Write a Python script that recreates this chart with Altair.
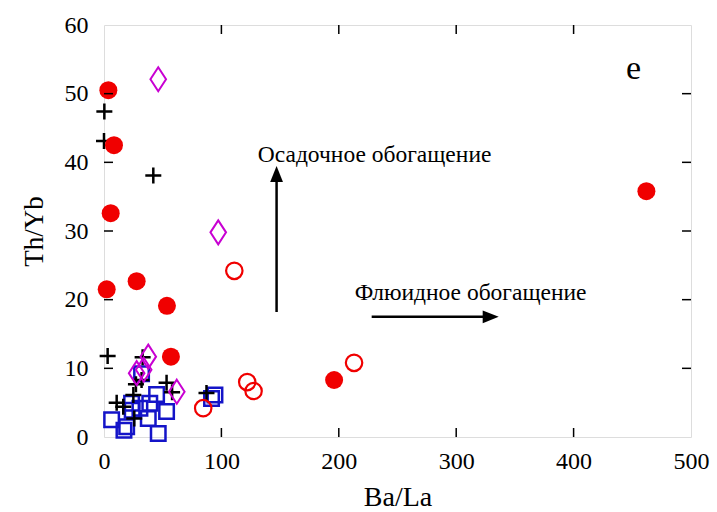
import altair as alt
import pandas as pd

# ---- data ----
filled_x = [3.7, 8.5, 5.7, 2.3, 27.8, 53.6, 57.0, 196.0, 462.0]
filled_y = [50.5, 42.5, 32.6, 21.5, 22.7, 19.1, 11.7, 8.3, 35.8]

open_x = [111.0, 122.0, 127.4, 84.5, 213.0]
open_y = [24.2, 8.0, 6.7, 4.2, 10.8]

diam_x = [46.2, 97.3, 37.7, 27.8, 33.8, 62.0]
diam_y = [52.1, 29.8, 11.7, 9.3, 9.8, 6.6]

plus_x = [0.3, 0.0, 42.0, 3.1, 32.9, 32.0, 27.2, 53.3, 58.0, 25.0, 10.8, 16.4, 25.8, 87.3]
plus_y = [47.4, 43.1, 38.1, 11.8, 11.6, 8.3, 7.7, 7.9, 6.5, 6.1, 5.0, 4.4, 2.7, 6.4]

sq_x = [6.5, 19.3, 17.0, 23.5, 30.6, 39.0, 44.8, 37.7, 53.3, 46.2, 32.0, 94.5, 91.6, 24.0]
sq_y = [2.5, 1.5, 1.0, 4.9, 4.2, 4.9, 6.2, 2.7, 3.7, 0.5, 9.2, 6.1, 5.6, 3.9]

x_ticks = [100, 200, 300, 400]
y_ticks = [10, 20, 30, 40, 50]

FONT = "Liberation Serif"
W, H = 587, 412

xs = alt.Scale(domain=[0, 500], nice=False, zero=False)
ys = alt.Scale(domain=[0, 60], nice=False, zero=False)

xaxis = alt.Axis(values=[0, 100, 200, 300, 400, 500], tickSize=0, domain=False, grid=False,
                 labelFont=FONT, labelFontSize=24, labelColor="black", labelPadding=12,
                 title="Ba/La", titleFont=FONT, titleFontSize=28, titleFontWeight="normal",
                 titleColor="black", titlePadding=10, labelFlush=False)
yaxis = alt.Axis(values=[0, 10, 20, 30, 40, 50, 60], tickSize=0, domain=False, grid=False,
                 labelFont=FONT, labelFontSize=24, labelColor="black", labelPadding=16,
                 title="Th/Yb", titleFont=FONT, titleFontSize=27, titleFontWeight="normal",
                 titleColor="black", titlePadding=16, labelFlush=False)

X = lambda f="x:Q": alt.X(f, scale=xs, axis=xaxis)
Y = lambda f="y:Q": alt.Y(f, scale=ys, axis=yaxis)


def pts(xv, yv):
    return pd.DataFrame({"x": xv, "y": yv})


RED = "#F00000"
BLUE = "#1414C8"
MAG = "#C800D2"

plus_path = "M-1,0L1,0M0,-1L0,1"
diam_path = "M0,-1L0.65,0L0,1L-0.65,0Z"

squares = alt.Chart(pts(sq_x, sq_y)).mark_point(
    shape="square", filled=False, size=210, stroke=BLUE, strokeWidth=2.5, opacity=1).encode(x=X(), y=Y())
pluses = alt.Chart(pts(plus_x, plus_y)).mark_point(
    shape=plus_path, filled=False, size=256, stroke="black", strokeWidth=2.5, opacity=1).encode(x=X(), y=Y())
diamonds = alt.Chart(pts(diam_x, diam_y)).mark_point(
    shape=diam_path, filled=False, size=576, stroke=MAG, strokeWidth=2, opacity=1).encode(x=X(), y=Y())
opens = alt.Chart(pts(open_x, open_y)).mark_point(
    shape="circle", filled=False, size=270, stroke=RED, strokeWidth=2.2, opacity=1).encode(x=X(), y=Y())
filled = alt.Chart(pts(filled_x, filled_y)).mark_point(
    shape="circle", filled=True, size=324, fill=RED, stroke=RED, strokeWidth=0, opacity=1).encode(x=X(), y=Y())

# inward ticks on all four sides
xt = pd.DataFrame({"x": x_ticks})
yt = pd.DataFrame({"y": y_ticks})
TL = 9
tick_b = alt.Chart(xt).mark_rule(color="black", strokeWidth=1.5).encode(
    x=X(), y=alt.value(H), y2=alt.value(H - TL))
tick_t = alt.Chart(xt).mark_rule(color="black", strokeWidth=1.5).encode(
    x=X(), y=alt.value(0), y2=alt.value(TL))
tick_l = alt.Chart(yt).mark_rule(color="black", strokeWidth=1.5).encode(
    y=Y(), x=alt.value(0), x2=alt.value(TL))
tick_r = alt.Chart(yt).mark_rule(color="black", strokeWidth=1.5).encode(
    y=Y(), x=alt.value(W), x2=alt.value(W - TL))

# arrows (annotations in data units)
v_shaft = alt.Chart(pd.DataFrame({"x": [147.0], "y": [18.2], "y2": [37.4]})).mark_rule(
    color="black", strokeWidth=2.5).encode(x=X(), y=Y(), y2="y2:Q")
v_head = alt.Chart(pd.DataFrame({"x": [147.0], "y": [38.3]})).mark_point(
    shape="M0,-1L0.8,1L-0.8,1Z", filled=True, size=256, fill="black", strokeWidth=0, opacity=1).encode(
    x=X(), y=Y())
h_shaft = alt.Chart(pd.DataFrame({"x": [228.0], "x2": [326.8], "y": [17.5]})).mark_rule(
    color="black", strokeWidth=2.5).encode(x=X(), x2="x2:Q", y=Y())
h_head = alt.Chart(pd.DataFrame({"x": [329.4], "y": [17.5]})).mark_point(
    shape="M1,0L-1,0.8L-1,-0.8Z", filled=True, size=256, fill="black", strokeWidth=0, opacity=1).encode(
    x=X(), y=Y())

labels = pd.DataFrame({
    "x": [131.0, 213.6],
    "y": [41.0, 20.9],
    "t": ["Осадочное обогащение", "Флюидное обогащение"],
})
texts = alt.Chart(labels).mark_text(font=FONT, fontSize=23.5, align="left", baseline="middle",
                                    color="black").encode(x=X(), y=Y(), text="t:N")
panel = alt.Chart(pd.DataFrame({"x": [451.0], "y": [53.6], "t": ["e"]})).mark_text(
    font=FONT, fontSize=34, align="center", baseline="middle", color="black").encode(
    x=X(), y=Y(), text="t:N")

chart = alt.layer(
    squares, pluses, diamonds, opens, filled,
    tick_b, tick_t, tick_l, tick_r,
    v_shaft, v_head, h_shaft, h_head, texts, panel,
).properties(
    width=W, height=H,
    autosize=alt.AutoSizeParams(type="none"),
    padding={"left": 104, "top": 25, "right": 26, "bottom": 75},
    background="white",
).configure_view(stroke="black", strokeWidth=2.2).configure_axis(
    labelFont=FONT, titleFont=FONT
).configure(font=FONT)

chart.save("out.html", embed_options={"renderer": "svg", "actions": False})
